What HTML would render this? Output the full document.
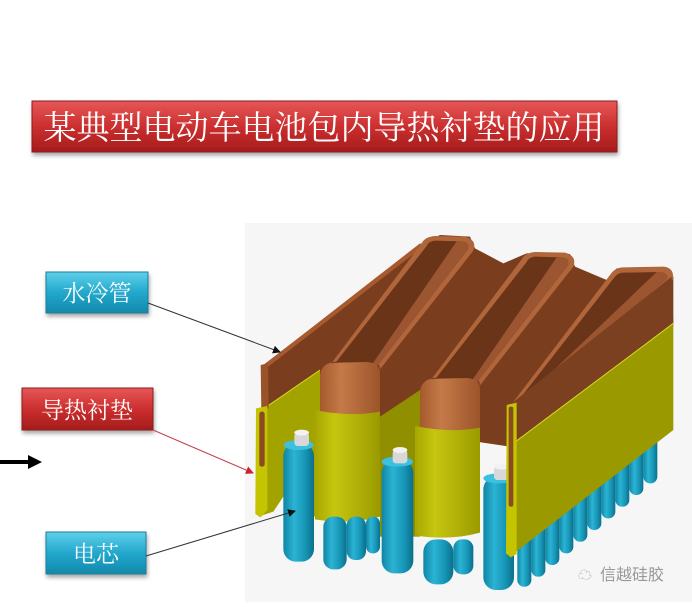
<!DOCTYPE html>
<html><head><meta charset="utf-8"><style>
html,body{margin:0;padding:0;background:#fff;}
body{width:692px;height:602px;overflow:hidden;position:relative;font-family:"Liberation Serif","Noto Serif CJK SC",serif;}
</style></head><body>
<svg width="692" height="602" viewBox="0 0 692 602" xmlns="http://www.w3.org/2000/svg">
<defs>
<linearGradient id="red" x1="0" y1="0" x2="0" y2="1"><stop offset="0" stop-color="#e65757"/><stop offset="0.5" stop-color="#cc2f2f"/><stop offset="1" stop-color="#a51c1c"/></linearGradient>
<linearGradient id="cyan" x1="0" y1="0" x2="0" y2="1"><stop offset="0" stop-color="#5fd0ea"/><stop offset="0.5" stop-color="#22a8cc"/><stop offset="1" stop-color="#1389ab"/></linearGradient>
<linearGradient id="cell" x1="0" y1="0" x2="1" y2="0"><stop offset="0" stop-color="#0f85a5"/><stop offset="0.35" stop-color="#2cb3d3"/><stop offset="0.7" stop-color="#1797b8"/><stop offset="1" stop-color="#0b6f8a"/></linearGradient>
<linearGradient id="sleeve" x1="0" y1="0" x2="1" y2="0"><stop offset="0" stop-color="#a6a600"/><stop offset="0.3" stop-color="#c6c610"/><stop offset="1" stop-color="#9a9a00"/></linearGradient>
<linearGradient id="tubef" x1="0" y1="0" x2="1" y2="0"><stop offset="0" stop-color="#a45a2c"/><stop offset="0.35" stop-color="#c57a48"/><stop offset="1" stop-color="#9c542a"/></linearGradient>
<filter id="sh" x="-5%" y="-10%" width="110%" height="130%"><feDropShadow dx="1" dy="3" stdDeviation="2" flood-color="#000" flood-opacity="0.35"/></filter>
<marker id="ab" markerWidth="8" markerHeight="8" refX="7" refY="4" orient="auto" markerUnits="userSpaceOnUse"><path d="M0,0 L8,4 L0,8 Z" fill="#111"/></marker>
<marker id="ar" markerWidth="8" markerHeight="8" refX="7" refY="4" orient="auto" markerUnits="userSpaceOnUse"><path d="M0,0 L8,4 L0,8 Z" fill="#d02030"/></marker>
</defs>
<rect x="245" y="223" width="447" height="379" fill="#f6f6f6"/>

<rect x="32" y="101" width="585" height="51" fill="url(#red)" stroke="#8a1a1a" stroke-width="1" filter="url(#sh)"/>
<text x="324" y="139" text-anchor="middle" font-size="33" fill="#fff" font-family="'Liberation Serif','Noto Serif CJK SC',serif">某典型电动车电池包内导热衬垫的应用</text>

<g transform="translate(240,230) scale(0.33333)">
  <g fill="url(#cell)">
    <rect x="1210" y="560" width="42" height="200" rx="20"/>
    <rect x="1168" y="590" width="42" height="205" rx="20"/>
    <rect x="1126" y="620" width="42" height="210" rx="20"/>
    <rect x="1084" y="650" width="42" height="215" rx="20"/>
    <rect x="1042" y="680" width="42" height="220" rx="20"/>
    <rect x="1000" y="710" width="42" height="225" rx="20"/>
    <rect x="958" y="740" width="42" height="230" rx="20"/>
    <rect x="916" y="770" width="42" height="235" rx="20"/>
    <rect x="874" y="800" width="42" height="240" rx="20"/>
    <rect x="832" y="830" width="42" height="240" rx="20"/>
  </g>
  <polygon points="70,405 545,40 600,15 690,20 705,55 790,100 860,70 990,72 1005,110 1100,150 1130,115 1280,112 1300,140 1300,290 820,640 810,650 70,540" fill="#7a3e1e"/>
  <polygon points="420,560 540,480 540,920 420,920" fill="#8f8f00"/>
  <polygon points="80,530 240,420 240,870 130,800 100,845 55,860 55,540" fill="#a3a300"/>
  <line x1="80" y1="530" x2="240" y2="420" stroke="#d8d820" stroke-width="3"/>
  <!-- left plate rim -->
  <polygon points="65,410 540,40 552,48 82,412" fill="#a65a2e"/>
  <polygon points="62,405 84,400 86,535 64,540" fill="#9a5228"/>
  <polygon points="48,535 82,528 82,840 62,862 46,852" fill="#c4c400"/>
  <rect x="58" y="545" width="16" height="165" rx="7" fill="#8a4a24"/>
  <!-- tube tops -->
  <g id="t1">
    <path d="M240,445 Q240,398 290,395 L390,393 Q420,395 420,418 L700,62 Q712,30 675,20 L585,18 Q555,20 545,40 Z" fill="#b0653a"/>
    <path d="M262,430 Q268,410 292,410 L385,408 Q402,410 402,420 L684,58 Q690,36 665,34 L585,32 Q566,34 560,48 Z" fill="#6a3418"/>
    <path d="M402,420 L684,58 Q690,36 665,34 L650,34 L390,412 Z" fill="#9b5530"/>
  </g>
  <use href="#t1" transform="translate(300,48)"/>
  <!-- tube3 -->
  <path d="M815,522 L1110,135 Q1125,112 1150,112 L1272,110 Q1305,115 1298,150 L828,528 Z" fill="#b0653a"/>
  <path d="M835,512 L1125,140 Q1135,128 1150,128 L1262,126 Q1285,130 1282,146 L842,520 Z" fill="#6a3418"/>
  <path d="M1282,146 Q1285,130 1262,126 L1250,126 L842,515 L842,520 Z" fill="#9b5530"/>
  <!-- tube1 front -->
  <path d="M240,440 Q240,398 300,398 L380,396 Q420,398 420,430 L420,548 Q330,565 240,548 Z" fill="url(#tubef)"/>
  <path d="M225,540 Q330,562 420,545 L420,860 Q330,885 225,868 Z" fill="url(#sleeve)"/>
  <g fill="url(#cell)">
    <rect x="250" y="860" width="70" height="158" rx="30"/>
    <rect x="320" y="860" width="58" height="130" rx="26"/>
    <rect x="378" y="860" width="42" height="110" rx="20"/>
  </g>
  <rect x="130" y="640" width="92" height="355" rx="38" fill="url(#cell)"/>
  <ellipse cx="176" cy="645" rx="45" ry="15" fill="#3cc0de"/>
  <rect x="163" y="608" width="44" height="40" rx="10" fill="#d8d8d8"/>
  <ellipse cx="185" cy="608" rx="22" ry="9" fill="#f2f2f2"/>
  <g transform="translate(300,48)">
    <path d="M240,440 Q240,398 300,398 L380,396 Q420,398 420,430 L420,548 Q330,565 240,548 Z" fill="url(#tubef)"/>
    <path d="M225,540 Q330,562 420,545 L420,860 Q330,885 225,868 Z" fill="url(#sleeve)"/>
  </g>
  <g fill="url(#cell)">
    <rect x="550" y="928" width="90" height="135" rx="38"/>
    <rect x="640" y="928" width="60" height="105" rx="26"/>
  </g>
  <rect x="425" y="690" width="95" height="340" rx="38" fill="url(#cell)"/>
  <ellipse cx="472" cy="695" rx="47" ry="15" fill="#3cc0de"/>
  <rect x="458" y="660" width="44" height="40" rx="10" fill="#d8d8d8"/>
  <ellipse cx="480" cy="660" rx="22" ry="9" fill="#f2f2f2"/>
  <rect x="730" y="740" width="92" height="340" rx="38" fill="url(#cell)"/>
  <ellipse cx="776" cy="745" rx="46" ry="15" fill="#3cc0de"/>
  <rect x="762" y="710" width="44" height="40" rx="10" fill="#d8d8d8"/>
  <ellipse cx="784" cy="710" rx="22" ry="9" fill="#f2f2f2"/>
  <polygon points="815,520 1295,140 1300,280 820,640" fill="#7b4020"/>
  <polygon points="820,640 1300,280 1300,600 815,975 820,660" fill="#9a9a00"/>
  <line x1="820" y1="640" x2="1300" y2="280" stroke="#d8d820" stroke-width="3"/>
  <polygon points="800,525 830,518 830,972 812,982 798,970" fill="#c4c400"/>
  <rect x="806" y="530" width="14" height="300" rx="6" fill="#8a4a24"/>
</g>

<text x="578" y="580" font-size="14" fill="#aaa" font-family="'Liberation Sans','Noto Sans CJK SC',sans-serif">☁</text>
<text x="600" y="580" font-size="16" fill="#999" font-family="'Liberation Sans','Noto Sans CJK SC',sans-serif">信越硅胶</text>

<rect x="46" y="272" width="102" height="41" fill="url(#cyan)" stroke="#1a7f9a" filter="url(#sh)"/>
<text x="97" y="301" text-anchor="middle" font-size="23" fill="#fff">水冷管</text>
<rect x="22" y="388" width="131" height="42" fill="url(#red)" stroke="#8a1a1a" filter="url(#sh)"/>
<text x="87" y="418" text-anchor="middle" font-size="23" fill="#fff">导热衬垫</text>
<rect x="46" y="532" width="100" height="42" fill="url(#cyan)" stroke="#1a7f9a" filter="url(#sh)"/>
<text x="96" y="562" text-anchor="middle" font-size="23" fill="#fff">电芯</text>

<line x1="148" y1="303" x2="280" y2="352" stroke="#333" stroke-width="1" marker-end="url(#ab)"/>
<line x1="153" y1="430" x2="253" y2="473" stroke="#c04050" stroke-width="1" marker-end="url(#ar)"/>
<line x1="146" y1="556" x2="295" y2="511" stroke="#333" stroke-width="1" marker-end="url(#ab)"/>

<rect x="0" y="460" width="30" height="4" fill="#000"/>
<path d="M28,455 L42,462 L28,469 Z" fill="#000"/>
</svg>
</body></html>
